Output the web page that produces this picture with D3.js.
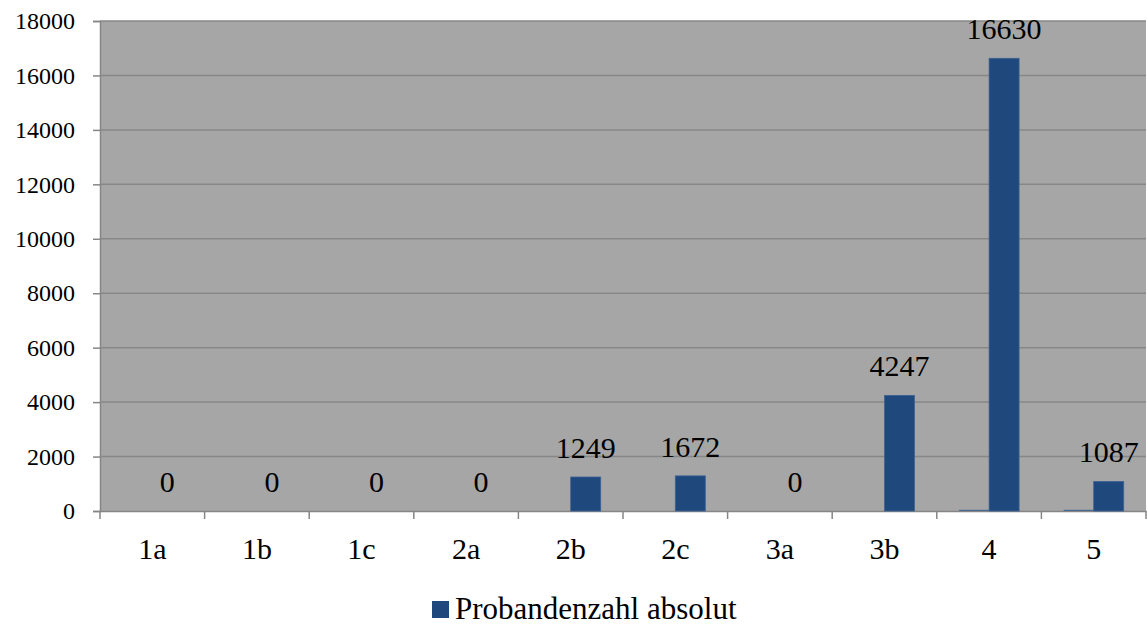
<!DOCTYPE html>
<html><head><meta charset="utf-8">
<script src="https://cdn.jsdelivr.net/npm/d3@7/dist/d3.min.js"></script>
<style>body{margin:0;background:#fff}svg{display:block}svg text{font-family:"Liberation Serif","Times New Roman",Times,"DejaVu Serif",serif;fill:#000}</style>
</head><body><svg id="c" width="1148" height="625"></svg>
<script>
const categories = ["1a","1b","1c","2a","2b","2c","3a","3b","4","5"];
const absolutValues = [0,0,0,0,1249,1290,0,4247,16630,1087];
const absolutLabels = ["0","0","0","0","1249","1672","0","4247","16630","1087"];
const secondValues = [0,0,0,0,0,0,0,0,45,45];
const yTicks = [0,2000,4000,6000,8000,10000,12000,14000,16000,18000];
const legendLabel = "Probandenzahl absolut";

const svg = d3.select("#c");
const L = 100, R = 1146, T = 21, B = 511;
const x = d3.scaleBand().domain(categories).range([L, R]).padding(0);
const y = d3.scaleLinear().domain([0, 18000]).range([B, T]);
const bw = 30;

svg.append("rect").attr("x", L).attr("y", T).attr("width", R - L).attr("height", B - T).attr("fill", "#a6a6a6");

svg.append("g").selectAll("line").data(yTicks.slice(1)).join("line")
  .attr("x1", L).attr("x2", R).attr("y1", d => y(d)).attr("y2", d => y(d))
  .attr("stroke", "#878787").attr("stroke-width", 1.5);

const ya = svg.append("g").attr("transform", `translate(${L},0)`)
  .call(d3.axisLeft(y).tickValues(yTicks).tickSize(7).tickPadding(18).tickFormat(d3.format("d")));
ya.attr("font-family", null).attr("font-size", null);
ya.select(".domain").attr("stroke", "#868686").attr("stroke-width", 1.5);
ya.selectAll(".tick line").attr("stroke", "#868686").attr("stroke-width", 1.5);
ya.selectAll("text").attr("fill", "#000").style("font-size", "24px");

const xa = svg.append("g").attr("transform", `translate(0,${B})`)
  .call(d3.axisBottom(x).tickSize(0));
xa.attr("font-family", null).attr("font-size", null);
xa.select(".domain").attr("stroke", "#868686").attr("stroke-width", 1.5);
xa.selectAll("text").attr("fill", "#000").attr("dy", null).attr("y", 48).style("font-size", "30px");
const bounds = categories.map(c => x(c)).concat([R]);
xa.selectAll(".bt").data(bounds).join("line").attr("class","bt")
  .attr("x1", d => d).attr("x2", d => d).attr("y1", 0).attr("y2", 8)
  .attr("stroke", "#868686").attr("stroke-width", 1.5);

const cx = c => x(c) + x.bandwidth() / 2;

svg.append("g").selectAll("rect").data(categories).join("rect")
  .attr("x", c => cx(c) - bw).attr("width", bw)
  .attr("y", (c, i) => y(secondValues[i])).attr("height", (c, i) => B - y(secondValues[i]))
  .attr("fill", "#4a6a94");

svg.append("g").selectAll("rect").data(categories).join("rect")
  .attr("x", c => cx(c)).attr("width", bw)
  .attr("y", (c, i) => y(absolutValues[i])).attr("height", (c, i) => B - y(absolutValues[i]))
  .attr("fill", "#1f497d").attr("stroke", "#3d6394").attr("stroke-width", 0.8);

svg.append("g").selectAll("text").data(categories).join("text")
  .attr("x", c => cx(c) + bw / 2).attr("y", (c, i) => y(absolutValues[i]) - 19)
  .attr("text-anchor", "middle").style("font-size", "30px")
  .text((c, i) => absolutLabels[i]);

svg.append("rect").attr("x", 432).attr("y", 601).attr("width", 17).attr("height", 17).attr("fill", "#1f497d");
svg.append("text").attr("x", 455).attr("y", 619).style("font-size", "31px").text(legendLabel);
</script></body></html>
